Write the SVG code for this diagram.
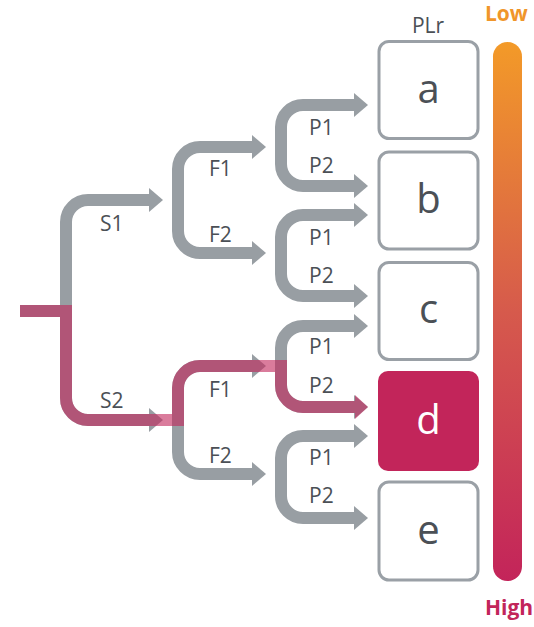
<svg xmlns="http://www.w3.org/2000/svg" width="534" height="627" viewBox="0 0 534 627">
<defs>
<linearGradient id="scale" x1="0" y1="0" x2="0" y2="1">
<stop offset="0" stop-color="#f39a28"/>
<stop offset="0.5" stop-color="#d65a4c"/>
<stop offset="1" stop-color="#c3245a"/>
</linearGradient>
<marker id="ag" viewBox="0 0 14 24" refX="1" refY="12" markerWidth="14" markerHeight="24" markerUnits="userSpaceOnUse" orient="auto">
<path d="M0,0 L14,12 L0,24 Z" fill="#989ea3"/>
</marker>
<marker id="ar" viewBox="0 0 14 24" refX="1" refY="12" markerWidth="14" markerHeight="24" markerUnits="userSpaceOnUse" orient="auto">
<path d="M1,0 L14,12 L1,24 Z" fill="#c2255a" fill-opacity="0.6"/>
</marker>
</defs>
<style>
.c{fill:none;stroke:#989ea3;stroke-width:12}
.a{marker-end:url(#ag)}
.hl{fill:none;stroke:#c2255a;stroke-opacity:0.6;stroke-width:12;stroke-linejoin:miter;marker-end:url(#ar)}
.lb{font-family:"Open Sans","Liberation Sans",sans-serif;font-size:21px;font-weight:500;fill:#4b5056}
.box{fill:#ffffff;stroke:#9aa0a6;stroke-width:3}
.bt{font-family:"Open Sans","Liberation Sans",sans-serif;font-size:40px;fill:#4b5056;text-anchor:middle}
.sc{font-family:"Open Sans","Liberation Sans",sans-serif;font-size:21px;font-weight:700}
</style>
<g id="connectors">
<path class="c" d="M20,311 H66"/>
<path class="c a" d="M66,311 V222 A22,22 0 0 1 88,200 H150"/>
<path class="c a" d="M66,311 V398 A22,22 0 0 0 88,420 H150"/>
<path class="c a" d="M178,200 V169 A22,22 0 0 1 200,147 H253"/>
<path class="c a" d="M178,200 V231 A22,22 0 0 0 200,253 H253"/>
<path class="c a" d="M178,420 V388 A22,22 0 0 1 200,366 H253"/>
<path class="c a" d="M178,420 V452 A22,22 0 0 0 200,474 H253"/>
<path class="c a" d="M281,147 V127 A22,22 0 0 1 303,105 H355"/>
<path class="c a" d="M281,147 V164 A22,22 0 0 0 303,186 H355"/>
<path class="c a" d="M281,253 V237 A22,22 0 0 1 303,215 H355"/>
<path class="c a" d="M281,253 V274 A22,22 0 0 0 303,296 H355"/>
<path class="c a" d="M281,366 V348 A22,22 0 0 1 303,326 H355"/>
<path class="c a" d="M281,366 V385 A22,22 0 0 0 303,407 H355"/>
<path class="c a" d="M281,474 V458 A22,22 0 0 1 303,436 H355"/>
<path class="c a" d="M281,474 V496 A22,22 0 0 0 303,518 H355"/>
<path class="hl" d="M20,311 H66 V398 A22,22 0 0 0 88,420 H178 V388 A22,22 0 0 1 200,366 H281 V385 A22,22 0 0 0 303,407 H355"/>
</g>
<g id="labels">
<text class="lb" x="100" y="231">S1</text>
<text class="lb" x="100" y="408">S2</text>
<text class="lb" x="209" y="176">F1</text>
<text class="lb" x="209" y="242">F2</text>
<text class="lb" x="209" y="397">F1</text>
<text class="lb" x="209" y="463">F2</text>
<text class="lb" x="309" y="135">P1</text>
<text class="lb" x="309" y="173">P2</text>
<text class="lb" x="309" y="245">P1</text>
<text class="lb" x="309" y="283">P2</text>
<text class="lb" x="309" y="354">P1</text>
<text class="lb" x="309" y="393">P2</text>
<text class="lb" x="309" y="465">P1</text>
<text class="lb" x="309" y="503">P2</text>
<text class="lb" x="428" y="33" text-anchor="middle">PLr</text>
</g>
<g id="node-a">
<rect class="box" x="379" y="41.5" width="99" height="97" rx="10"/>
<text class="bt" x="428.5" y="103">a</text>
</g>
<g id="node-b">
<rect class="box" x="379" y="152" width="99" height="97" rx="10"/>
<text class="bt" x="428.5" y="213">b</text>
</g>
<g id="node-c">
<rect class="box" x="379" y="262.5" width="99" height="97" rx="10"/>
<text class="bt" x="428.5" y="323">c</text>
</g>
<g id="node-d">
<rect x="378" y="371" width="101" height="100" rx="10" fill="#c2255a"/>
<text class="bt" x="428.5" y="434" style="fill:#ffffff">d</text>
</g>
<g id="node-e">
<rect class="box" x="379" y="482" width="99" height="98" rx="10"/>
<text class="bt" x="428.5" y="544">e</text>
</g>
<g id="scale-bar">
<rect x="493" y="42" width="29" height="539" rx="14.5" fill="url(#scale)"/>
<text class="sc" x="485" y="21" fill="#f0962a">Low</text>
<text class="sc" x="485" y="615" fill="#c2255a">High</text>
</g>
</svg>
